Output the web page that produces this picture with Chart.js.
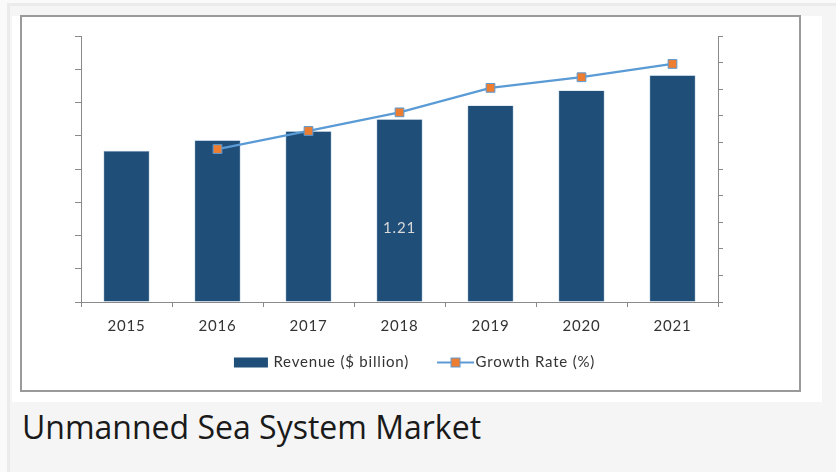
<!DOCTYPE html>
<html>
<head>
<meta charset="utf-8">
<script src="https://cdn.jsdelivr.net/npm/chart.js@4.4.1/dist/chart.umd.min.js"></script>
<style>
  body { margin: 0; background: #fafafa; width: 836px; height: 472px; overflow: hidden; position: relative; }
  #page { position: absolute; left: 7px; top: 3px; width: 840px; height: 480px; background: #f5f5f5; border: 3px solid #ebebeb; box-sizing: border-box; }
  #sheet { position: absolute; left: 12px; top: 16px; width: 810px; height: 386px; background: #fff; }
  #frame { position: absolute; left: 20px; top: 15px; width: 781px; height: 377px; border: 2px solid #9a9a9a; box-sizing: border-box; background: #fff; }
  #frame canvas { display: block; }
  #caption { position: absolute; left: 22px; top: 411px; font-family: "Open Sans", sans-serif; font-size: 32px; line-height: 32px; color: #1a1a1a; white-space: nowrap; }
</style>
</head>
<body>
<div id="page"></div>
<div id="sheet"></div>
<div id="frame"><canvas id="myChart" width="777" height="373"></canvas></div>
<div id="caption">Unmanned Sea System Market</div>
<script>
'use strict';

const years = ['2015', '2016', '2017', '2018', '2019', '2020', '2021'];
const revenue = [1.00, 1.07, 1.13, 1.21, 1.30, 1.40, 1.50];
const growthRate = [null, 5.75, 6.43, 7.13, 8.05, 8.45, 8.95];
const revenueAxisMax = 1.76;
const growthAxisMax = 10;
const labelledYear = '2018';

const barColor = '#1f4e79';
const lineColor = '#5b9bd5';
const markerColor = '#ed7d31';
const axisColor = '#8a8a8a';
const textColor = '#333333';

// little pictures for the legend (54 wide, drawn centred on the legend box)
function barSwatch() {
  let c = document.createElement('canvas');
  c.width = 54; c.height = 14;
  let g = c.getContext('2d');
  g.fillStyle = barColor;
  g.fillRect(15, 2, 34, 10);
  return c;
}

function lineSwatch() {
  let c = document.createElement('canvas');
  c.width = 54; c.height = 14;
  let g = c.getContext('2d');
  g.strokeStyle = lineColor;
  g.lineWidth = 2;
  g.beginPath();
  g.moveTo(16, 7);
  g.lineTo(53, 7);
  g.stroke();
  g.fillStyle = markerColor;
  g.fillRect(30, 2.5, 9, 9);
  g.lineWidth = 1;
  g.strokeRect(30, 2.5, 9, 9);
  return c;
}

const barLegendImg = barSwatch();
const lineLegendImg = lineSwatch();

// the text in the picture is a bit spread out
const spacing = {
  id: 'spacing',
  beforeUpdate(chart) {
    chart.ctx.letterSpacing = '0.8px';
  },
  beforeDraw(chart) {
    chart.ctx.letterSpacing = '0.8px';
  }
};

// the one data label on the 2018 bar
const dataLabel = {
  id: 'dataLabel',
  afterDatasetsDraw(chart) {
    let i = years.indexOf(labelledYear);
    let meta = chart.getDatasetMeta(1);
    let bar = meta.data[i];
    let y = chart.scales.y.getPixelForValue(revenue[i] * 0.405);
    let ctx = chart.ctx;
    ctx.save();
    ctx.fillStyle = '#d9d9d9';
    ctx.font = '15px Lato';
    ctx.textAlign = 'center';
    ctx.textBaseline = 'middle';
    ctx.fillText(revenue[i].toFixed(2), bar.x, y);
    ctx.restore();
  }
};

let canvasElem = document.getElementById('myChart').getContext('2d');

new Chart(canvasElem, {
  data: {
    labels: years,
    datasets: [{
      type: 'line',
      label: 'Growth Rate (%)',
      data: growthRate,
      yAxisID: 'y1',
      borderColor: lineColor,
      borderWidth: 2.25,
      tension: 0,
      pointStyle: 'rect',
      pointRadius: 6.2,
      pointBorderWidth: 1,
      pointBackgroundColor: markerColor,
      pointBorderColor: lineColor,
      spanGaps: false
    },
    {
      type: 'bar',
      label: 'Revenue ($ billion)',
      data: revenue,
      yAxisID: 'y',
      backgroundColor: barColor,
      borderColor: '#8fb0d0',
      borderWidth: 0.6,
      categoryPercentage: 1,
      barPercentage: 0.505
    }]
  },
  options: {
    responsive: false,
    animation: false,
    layout: { padding: { top: 19, bottom: 10, left: 0, right: 0 } },
    plugins: {
      tooltip: { enabled: false },
      legend: {
        position: 'bottom',
        labels: {
          usePointStyle: true,
          pointStyleWidth: 40,
          padding: 19,
          color: textColor,
          font: { family: 'Lato', size: 15 },
          generateLabels: () => [
            { text: 'Revenue ($ billion)', pointStyle: barLegendImg, fontColor: textColor, datasetIndex: 1, lineWidth: 0 },
            { text: 'Growth Rate (%)', pointStyle: lineLegendImg, fontColor: textColor, datasetIndex: 0, lineWidth: 0 }
          ]
        }
      }
    },
    scales: {
      x: {
        offset: true,
        grid: { offset: true, drawOnChartArea: false, drawTicks: true, tickLength: 5, color: axisColor },
        border: { display: true, color: axisColor, width: 1 },
        ticks: { color: textColor, padding: 10, font: { family: 'Lato', size: 15 } },
        afterFit: scale => { scale.height = 34; }
      },
      y: {
        position: 'left',
        min: 0,
        max: revenueAxisMax,
        ticks: { display: false, count: 9 },
        grid: { drawOnChartArea: false, drawTicks: true, tickLength: 6, color: axisColor },
        border: { display: true, color: axisColor, width: 1 },
        afterFit: scale => { scale.width = 59; }
      },
      y1: {
        position: 'right',
        min: 0,
        max: growthAxisMax,
        ticks: { display: false, count: 11 },
        grid: { drawOnChartArea: false, drawTicks: true, tickLength: 5, color: axisColor },
        border: { display: true, color: axisColor, width: 1 },
        afterFit: scale => { scale.width = 81; }
      }
    }
  },
  plugins: [spacing, dataLabel]
});
</script>
</body>
</html>
